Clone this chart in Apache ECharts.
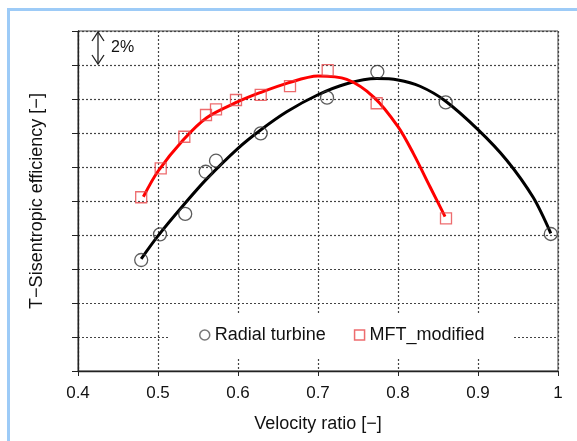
<!DOCTYPE html>
<html>
<head>
<meta charset="utf-8">
<script src="https://cdn.jsdelivr.net/npm/echarts@6/dist/echarts.min.js"></script>
<style>
  html, body { margin: 0; padding: 0; background: #fff; }
  #chart { width: 577px; height: 441px; }
</style>
</head>
<body>
<div id="chart"></div>
<script>
// x tick labels
const xTicks = ['0.4', '0.5', '0.6', '0.7', '0.8', '0.9', '1'];

// measured points, y in % above the bottom grid line (one grid step = 2%)
const radialX = [0.479, 0.5025, 0.534, 0.5596, 0.5725, 0.6284, 0.7113, 0.7742, 0.8596, 0.991];
const radialY = [6.53, 8.04, 9.24, 11.72, 12.37, 13.98, 16.08, 17.6, 15.8, 8.06];

const mftX = [0.479, 0.5034, 0.5329, 0.56, 0.5725, 0.5975, 0.6284, 0.665, 0.7121, 0.7733, 0.86];
const mftY = [10.22, 11.92, 13.78, 15.06, 15.39, 15.94, 16.24, 16.76, 17.7, 15.75, 8.98];

// fitted curves
const radialFitX = [0.479, 0.5, 0.5317, 0.5609, 0.6, 0.6275, 0.6609, 0.7, 0.7359, 0.7734, 0.8, 0.8275, 0.8588, 0.9, 0.9359, 0.9691, 0.991];
const radialFitY = [6.6, 7.95, 9.75, 11.3, 13.1, 14.15, 15.25, 16.25, 16.9, 17.2, 17.12, 16.75, 15.9, 14.2, 12.4, 10.2, 8.1];

const mftFitX = [0.4817, 0.5, 0.5317, 0.5609, 0.6, 0.6275, 0.6609, 0.7, 0.7359, 0.77, 0.8, 0.8191, 0.84, 0.8588];
const mftFitY = [10.25, 11.75, 13.6, 14.9, 15.84, 16.37, 16.92, 17.35, 17.15, 16.1, 14.37, 12.8, 10.84, 9.08];

const zip = (xs, ys) => xs.map((x, i) => [x, ys[i]]);

const chart = echarts.init(document.getElementById('chart'), null, { renderer: 'canvas' });

const textColor = '#111';
const font = 'Liberation Sans, Arial, sans-serif';
const gridLine = { show: true, lineStyle: { color: '#444', width: 1.2, type: [2, 2] } };

const option = {
  animation: false,
  backgroundColor: '#fff',
  textStyle: { fontFamily: font, color: textColor },
  grid: {
    left: 78, right: 19, top: 31, bottom: 70,
    show: true, borderColor: '#444', borderWidth: 1, backgroundColor: 'transparent'
  },
  legend: {
    left: 168,
    top: 313,
    backgroundColor: '#fff',
    padding: [13, 28, 14, 31],
    itemGap: 28,
    itemWidth: 10,
    itemHeight: 10,
    textStyle: { fontSize: 18, color: textColor, fontFamily: font },
    data: [
      { name: 'Radial turbine', icon: 'circle', itemStyle: { color: 'transparent', borderColor: '#555', borderWidth: 1.5 } },
      { name: 'MFT_modified', icon: 'rect', itemStyle: { color: 'transparent', borderColor: '#e8474a', borderWidth: 1.5 } }
    ]
  },
  xAxis: {
    type: 'value',
    min: 0.4,
    max: 1,
    interval: 0.1,
    name: 'Velocity ratio [−]',
    nameLocation: 'middle',
    nameGap: 44,
    nameTextStyle: { fontSize: 18, color: textColor },
    axisLine: { show: true, onZero: false, lineStyle: { color: '#222', width: 1.3 } },
    axisTick: { show: true, length: 5, lineStyle: { color: '#222' } },
    axisLabel: {
      fontSize: 17, color: textColor, margin: 14,
      formatter: v => xTicks[Math.round((v - 0.4) * 10)]
    },
    splitLine: gridLine
  },
  yAxis: {
    type: 'value',
    min: 0,
    max: 20,
    interval: 2,
    name: 'T−Sisentropic efficiency [−]',
    nameLocation: 'middle',
    nameGap: 32,
    nameTextStyle: { fontSize: 18, color: textColor },
    axisLine: { show: true, lineStyle: { color: '#222', width: 1.3 } },
    axisTick: { show: true, length: 6, lineStyle: { color: '#222' } },
    axisLabel: { show: false },
    splitLine: gridLine
  },
  series: [
    {
      name: 'Radial fit',
      type: 'line',
      smooth: 0.3,
      showSymbol: false,
      data: zip(radialFitX, radialFitY),
      lineStyle: { color: '#000', width: 3 },
      z: 2
    },
    {
      name: 'MFT fit',
      type: 'line',
      smooth: 0.3,
      showSymbol: false,
      data: zip(mftFitX, mftFitY),
      lineStyle: { color: '#ff0000', width: 3 },
      z: 2
    },
    {
      name: 'Radial turbine',
      type: 'scatter',
      symbol: 'circle',
      symbolSize: 13,
      data: zip(radialX, radialY),
      itemStyle: { color: 'rgba(0,0,0,0)', borderColor: '#333', borderWidth: 1.3 },
      z: 3
    },
    {
      name: 'MFT_modified',
      type: 'scatter',
      symbol: 'rect',
      symbolSize: 11,
      data: zip(mftX, mftY),
      itemStyle: { color: 'rgba(0,0,0,0)', borderColor: '#e8474a', borderWidth: 1.3 },
      z: 3
    }
  ]
};

chart.setOption(option);

// 2% scale arrow between the two top grid lines, plus the light blue frame
const arrTop = chart.convertToPixel({ gridIndex: 0 }, [0.425, 20]);
const arrBot = chart.convertToPixel({ gridIndex: 0 }, [0.425, 18]);
const ax = arrTop[0];
const arrowStyle = { stroke: '#222', lineWidth: 1.3, fill: null };

chart.setOption({
  graphic: [
    { type: 'rect', left: 7, top: 8, shape: { width: 570, height: 3 }, style: { fill: '#9dcbf7' }, silent: true },
    { type: 'rect', left: 7, top: 8, shape: { width: 3, height: 433 }, style: { fill: '#9dcbf7' }, silent: true },
    { type: 'line', shape: { x1: ax, y1: arrTop[1] + 1, x2: ax, y2: arrBot[1] - 1 }, style: arrowStyle, silent: true },
    { type: 'polyline', shape: { points: [[ax - 6, arrTop[1] + 10], [ax, arrTop[1] + 1], [ax + 6, arrTop[1] + 10]] }, style: arrowStyle, silent: true },
    { type: 'polyline', shape: { points: [[ax - 6, arrBot[1] - 10], [ax, arrBot[1] - 1], [ax + 6, arrBot[1] - 10]] }, style: arrowStyle, silent: true },
    {
      type: 'text',
      x: ax + 13,
      y: (arrTop[1] + arrBot[1]) / 2,
      style: { text: '2%', fontSize: 16, fontFamily: font, fill: textColor, verticalAlign: 'middle' },
      silent: true
    }
  ]
});
</script>
</body>
</html>
